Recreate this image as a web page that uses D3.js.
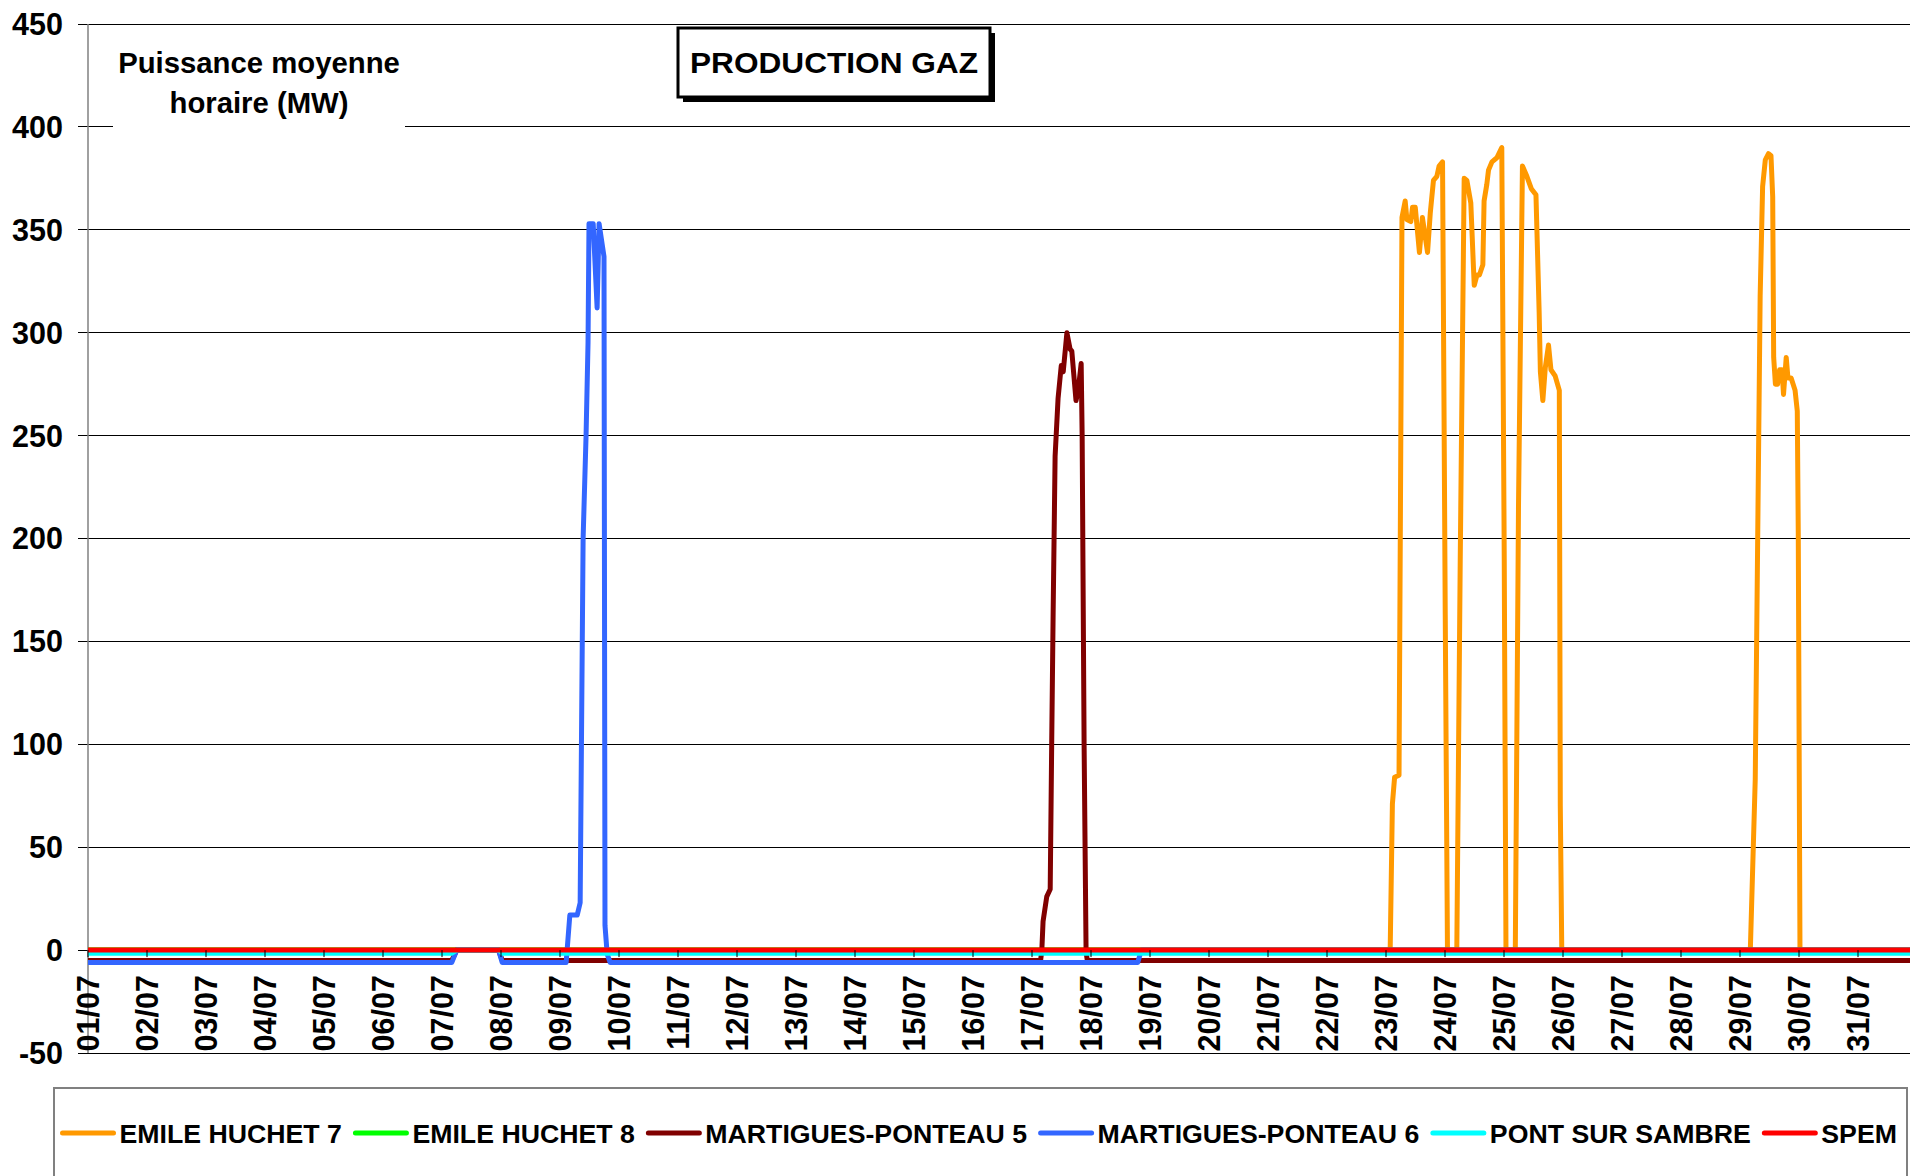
<!DOCTYPE html>
<html>
<head>
<meta charset="utf-8">
<script src="https://cdn.jsdelivr.net/npm/d3@7/dist/d3.min.js"></script>
<style>
  body { margin: 0; background: #fff; }
  svg text { font-family: 'Liberation Sans', Arial, sans-serif; font-weight: bold; fill: #000; }
</style>
</head>
<body>
<div id="canvas"></div>
<script>
'use strict';

// Hours are counted from 01/07 00:00, values are MW (hourly mean power).
const dayLabels = [
  '01/07', '02/07', '03/07', '04/07', '05/07', '06/07', '07/07', '08/07',
  '09/07', '10/07', '11/07', '12/07', '13/07', '14/07', '15/07', '16/07',
  '17/07', '18/07', '19/07', '20/07', '21/07', '22/07', '23/07', '24/07',
  '25/07', '26/07', '27/07', '28/07', '29/07', '30/07', '31/07',
];
const yTicks = [-50, 0, 50, 100, 150, 200, 250, 300, 350, 400, 450];
const seriesNames = [
  'EMILE HUCHET 7', 'EMILE HUCHET 8', 'MARTIGUES-PONTEAU 5',
  'MARTIGUES-PONTEAU 6', 'PONT SUR SAMBRE', 'SPEM',
];

const emileHuchet7 = [
  [0, 0], [529.7, 0], [530.6, 71], [531.5, 84], [533.3, 85], [534.5, 356],
  [535.8, 364], [536.5, 355], [538.1, 354], [538.8, 361], [539.9, 361],
  [541.6, 339], [542.8, 356], [544.9, 339], [546, 358], [547.3, 374],
  [548.7, 376], [549.6, 381], [551, 383], [552.1, 163], [553, 0],
  [556.8, 0], [558.2, 190], [559.8, 375], [560.9, 374], [562.5, 363],
  [563.6, 331], [563.9, 323], [565, 328], [566, 328], [567.4, 333],
  [567.9, 364], [569, 372], [569.7, 379], [571.1, 383], [573.1, 385],
  [575.1, 390], [576.1, 190], [576.8, 0],
  [580.6, 0], [581.9, 216], [583.5, 381], [585.3, 376], [587.1, 370],
  [589, 367], [590.3, 310], [590.8, 281], [591.8, 267], [592.8, 283],
  [594.1, 294], [595.1, 282], [596.8, 279], [598.5, 272], [598.9, 70],
  [599.5, 0],
  [676.2, 0], [678.2, 83], [680.2, 318], [681.2, 371], [682.3, 384],
  [683.6, 387], [684.6, 386], [685.3, 366], [685.7, 288], [686.4, 275],
  [687.3, 275], [688.1, 282], [689.1, 282], [689.7, 270], [690.8, 288],
  [691.5, 278], [692.8, 278], [694.4, 272], [695.3, 262], [695.7, 203],
  [696.4, 0], [744, 0],
];
const emileHuchet8 = [[0, 0], [744, 0]];
const martigues5 = [
  [0, -5], [148, -5], [150, 0], [167, 0], [168.5, -5], [387.5, -5],
  [388, 0], [388.5, 14], [390, 26], [391.4, 29.6], [392, 99], [392.6, 164],
  [393.4, 240], [394.6, 268], [395.9, 284], [396.7, 281], [398.2, 300],
  [399.5, 292], [400.2, 291], [401.9, 267], [402.8, 272], [404, 285],
  [404.4, 250], [405.2, 99], [406, -1], [406.5, -5], [744, -5],
];
const martigues6 = [
  [0, -6], [148, -6], [150, 0], [167, 0], [168.5, -6], [194.5, -6],
  [196, 17], [199, 17], [200.2, 23], [201.4, 200], [202.6, 250],
  [203.4, 295], [203.8, 353], [205.5, 353], [207.1, 312], [207.9, 353],
  [209.9, 337], [210.3, 12], [211.2, -2], [212.4, -6], [427, -6],
  [428.5, 0], [744, 0],
];
const pontSurSambre = [
  [0, -1.5], [148, -1.5], [150, 0], [167, 0], [168.5, -1.5], [744, -1.5],
];
const spem = [[0, 0], [744, 0]];

const seriesValues = [
  emileHuchet7, emileHuchet8, martigues5, martigues6, pontSurSambre, spem,
];
const seriesColors = [
  '#FF9900', '#00FF00', '#800000', '#3366FF', '#00FFFF', '#FF0000',
];

/**
 * Draws the gas production chart.
 */
class GasChart {
  constructor() {
    this.width_ = 1910;
    this.height_ = 1176;
    this.plot_ = {left: 88, top: 24, bottom: 1053};
    this.dayWidth_ = 59;
    this.svg_ = d3.select('#canvas').append('svg')
        .attr('width', this.width_)
        .attr('height', this.height_)
        .style('display', 'block');
    this.x_ = d3.scaleLinear()
        .domain([0, dayLabels.length * 24])
        .range([this.plot_.left,
          this.plot_.left + dayLabels.length * this.dayWidth_]);
    this.y_ = d3.scaleLinear()
        .domain([-50, 450])
        .range([this.plot_.bottom, this.plot_.top]);
  }

  draw() {
    this.drawGrid_();
    this.drawAxisTitle_();
    this.drawSeries_();
    this.drawXAxis_();
    this.drawTitle_();
    this.drawLegend_();
  }

  drawGrid_() {
    const [x0, x1] = this.x_.range();
    this.svg_.append('g')
        .selectAll('line')
        .data(yTicks)
        .join('line')
        .attr('x1', x0 - 10)
        .attr('x2', x1)
        .attr('y1', d => this.y_(d))
        .attr('y2', d => this.y_(d))
        .attr('stroke', '#000')
        .attr('stroke-width', 1)
        .attr('shape-rendering', 'crispEdges');
    this.svg_.append('line')
        .attr('x1', x0).attr('x2', x0)
        .attr('y1', this.plot_.top).attr('y2', this.plot_.bottom)
        .attr('stroke', '#808080')
        .attr('stroke-width', 1.5);
    this.svg_.append('g')
        .selectAll('text')
        .data(yTicks)
        .join('text')
        .attr('x', x0 - 25)
        .attr('y', d => this.y_(d))
        .attr('dy', '0.36em')
        .attr('text-anchor', 'end')
        .style('font-size', '30.5px')
        .text(d => d);
  }

  drawAxisTitle_() {
    // White panel behind the title hides the 400 gridline, as in Excel.
    this.svg_.append('rect')
        .attr('x', 113).attr('y', 34)
        .attr('width', 292).attr('height', 96)
        .attr('fill', '#fff');
    this.svg_.append('text')
        .attr('x', 259)
        .attr('y', 73)
        .attr('text-anchor', 'middle')
        .style('font-size', '29.3px')
        .selectAll('tspan')
        .data(['Puissance moyenne', 'horaire (MW)'])
        .join('tspan')
        .attr('x', 259)
        .attr('dy', (d, i) => i === 0 ? 0 : 40)
        .text(d => d);
  }

  drawSeries_() {
    const line = d3.line()
        .x(d => this.x_(d[0]))
        .y(d => this.y_(d[1]));
    this.svg_.append('g')
        .selectAll('path')
        .data(seriesValues)
        .join('path')
        .attr('d', line)
        .attr('fill', 'none')
        .attr('stroke', (d, i) => seriesColors[i])
        .attr('stroke-width', 5)
        .attr('stroke-linejoin', 'round');
  }

  drawXAxis_() {
    const y0 = this.y_(0);
    const days = dayLabels.map((label, i) => ({label, hour: i * 24}));
    this.svg_.append('g')
        .selectAll('line')
        .data(days)
        .join('line')
        .attr('x1', d => this.x_(d.hour))
        .attr('x2', d => this.x_(d.hour))
        .attr('y1', y0)
        .attr('y2', y0 + 7)
        .attr('stroke', '#000')
        .attr('stroke-width', 1);
    this.svg_.append('g')
        .selectAll('text')
        .data(days)
        .join('text')
        .attr('transform', d => `translate(${this.x_(d.hour)}, ${y0 + 25}) rotate(-90)`)
        .attr('dy', '0.36em')
        .attr('text-anchor', 'end')
        .style('font-size', '30.5px')
        .text(d => d.label);
  }

  drawTitle_() {
    const box = {x: 678, y: 28, w: 312, h: 69};
    this.svg_.append('rect')
        .attr('x', box.x + 5).attr('y', box.y + 5)
        .attr('width', box.w).attr('height', box.h)
        .attr('fill', '#000');
    this.svg_.append('rect')
        .attr('x', box.x).attr('y', box.y)
        .attr('width', box.w).attr('height', box.h)
        .attr('fill', '#fff')
        .attr('stroke', '#000')
        .attr('stroke-width', 3);
    this.svg_.append('text')
        .attr('x', box.x + box.w / 2)
        .attr('y', box.y + box.h / 2)
        .attr('dy', '0.36em')
        .attr('text-anchor', 'middle')
        .style('font-size', '30px')
        .attr('textLength', 288)
        .attr('lengthAdjust', 'spacingAndGlyphs')
        .text('PRODUCTION GAZ');
  }

  drawLegend_() {
    this.svg_.append('rect')
        .attr('x', 54).attr('y', 1088)
        .attr('width', 1853).attr('height', 140)
        .attr('fill', '#fff')
        .attr('stroke', '#808080')
        .attr('stroke-width', 2);
    const legend = this.svg_.append('g');
    let cursor = 62.5;
    const yMid = 1133;
    seriesNames.forEach((name, i) => {
      legend.append('line')
          .attr('x1', cursor).attr('x2', cursor + 51)
          .attr('y1', yMid).attr('y2', yMid)
          .attr('stroke', seriesColors[i])
          .attr('stroke-width', 5)
          .attr('stroke-linecap', 'round');
      const label = legend.append('text')
          .attr('x', cursor + 57)
          .attr('y', yMid)
          .attr('dy', '0.36em')
          .style('font-size', '26.7px')
          .text(name);
      cursor += 57 + label.node().getComputedTextLength() + 13.5;
    });
  }
}

new GasChart().draw();
</script>
</body>
</html>
